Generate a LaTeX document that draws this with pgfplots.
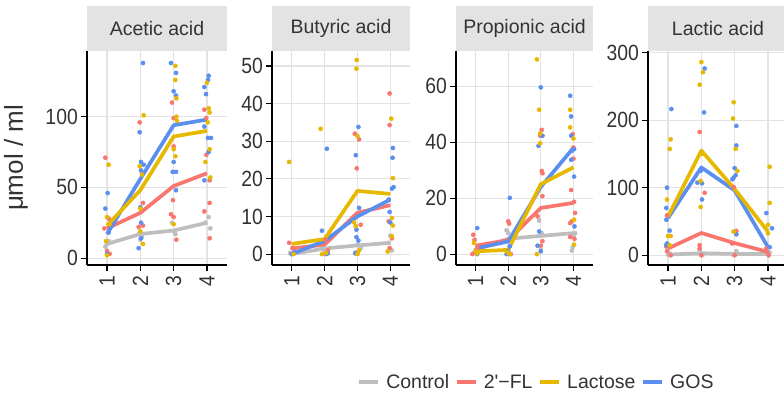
\documentclass[border=0pt]{standalone}
\usepackage{fontspec}
\setmainfont{Liberation Sans}
\newfontfamily\tickfamily{Liberation Sans}[FakeStretch=0.88]
\usepackage{pgfplots}
\pgfplotsset{compat=1.18}
\definecolor{cctrl}{HTML}{BEBEBE}
\definecolor{cfl}{HTML}{F8766D}
\definecolor{clac}{HTML}{E7B800}
\definecolor{cgos}{HTML}{5A8FEF}
\definecolor{cstrip}{HTML}{E3E3E3}
\definecolor{cgrid}{HTML}{E3E3E3}
\definecolor{ctext}{HTML}{333333}
\newcommand{\fs}{\fontsize{19.5bp}{22bp}\selectfont}
\newcommand{\tfs}{\tickfamily\fontsize{22bp}{24bp}\selectfont}
\pgfplotsset{
  panel/.style={
    anchor=south west, scale only axis, height=214bp,
    xmin=0.4, xmax=4.6, xtick={1,2,3,4},
    axis x line*=bottom, axis y line*=left,
    axis line style={line width=1.3bp, black, -},
    tick align=outside, major tick length=6bp,
    tick style={line width=1.1bp, black},
    grid=major, major grid style={cgrid, line width=1.1bp},
    clip=false,
    /pgf/number format/assume math mode=true,
    yticklabel style={font=\tfs, text=ctext, inner sep=3bp},
    xticklabel style={font=\tfs, text=ctext, rotate=90, anchor=east, inner sep=5bp},
    every axis title/.style={at={(0.5,1)}, anchor=south, fill=cstrip,
      minimum height=45bp, inner sep=0pt, font=\fs, text=ctext},
  },
  pt/.style={only marks, mark=*, mark size=2.1bp, color=#1, forget plot},
  ln/.style={no marks, color=#1, line width=3.7bp, line join=round, forget plot},
}
\begin{document}
\begin{tikzpicture}
% ---------------- Acetic acid ----------------
\begin{axis}[panel, at={(87bp,134bp)}, width=140bp,
  ymin=-4.9, ymax=146.5, ytick={0,50,100},
  title={Acetic acid}, title style={minimum width=140bp},
  ylabel={\fontsize{26bp}{30bp}\selectfont μmol / ml},
  ylabel style={at={(axis description cs:-0.507,0.5)}, anchor=center, rotate=0, text=ctext}]
\addplot[pt=cctrl] coordinates {(1.0,10)(0.95,8)(1.05,12)(2.0,13)(1.95,17)(2.05,15)(3.0,19)(2.95,25)(3.05,17)(4.05,29)(4.1,21)(3.95,25)};
\addplot[pt=cfl] coordinates {(0.95,71)(1.05,28)(0.92,21)(1.0,5)(1.08,3)(1.98,96)(2.08,39)(2.08,23)(1.95,22)(2.95,110)(3.0,99)(3.0,79)(2.98,41)(2.92,31)(3.0,29)(3.08,13)(3.92,105)(3.98,99)(3.98,73)(4.08,55)(4.08,39)(3.92,33)(4.08,14)};
\addplot[pt=cgos] coordinates {(1.02,46)(0.95,35)(1.0,3)(1.05,18)(2.08,138)(1.98,89)(2.02,68)(2.1,66)(2.02,62)(2.0,36)(2.02,25)(1.95,7)(2.02,14)(2.92,138)(3.07,131)(3.0,118)(3.07,115)(3.0,68)(2.97,61)(3.07,61)(3.07,48)(4.05,129)(4.03,126)(3.92,121)(3.97,116)(3.92,93)(4.03,85)(4.12,85)(4.05,75)(3.92,55)};
\addplot[pt=clac] coordinates {(1.05,66)(1.0,29)(0.97,12)(1.0,2)(1.08,24)(2.1,101)(1.98,65)(2.05,59)(2.0,35)(2.0,19)(2.08,10)(3.05,136)(3.05,126)(3.08,113)(3.08,100)(3.1,97)(3.0,77)(3.05,72)(3.0,24)(4.0,124)(4.05,106)(4.08,103)(4.02,96)(4.08,77)(3.95,68)(4.1,57)};
\addplot[ln=cctrl] coordinates {(1,10)(2,17)(3,19.5)(4,25)};
\addplot[ln=cfl] coordinates {(1,21)(2,32)(3,51)(4,60)};
\addplot[ln=cgos] coordinates {(1,17)(2,56)(3,94)(4,98)};
\addplot[ln=clac] coordinates {(1,23)(2,48)(3,86)(4,90)};
\end{axis}
% ---------------- Butyric acid ----------------
\begin{axis}[panel, at={(272bp,134bp)}, width=138bp,
  ymin=-2.9, ymax=54, ytick={0,10,20,30,40,50},
  title={Butyric acid}, title style={minimum width=138bp}]
\addplot[pt=cctrl] coordinates {(1.0,0)(0.95,0.3)(2.0,0.8)(1.95,1.5)(3.0,2.5)(3.1,1.6)(2.95,0.5)(4.0,4.9)(3.95,3.0)(4.05,1.0)};
\addplot[pt=cfl] coordinates {(0.92,3)(1.02,1.6)(1.05,0.2)(2.02,3.8)(2.1,1.0)(2.92,32)(3.05,30.5)(2.98,22.8)(3.1,7.8)(3.0,0.3)(3.98,42.7)(3.98,34.3)(3.95,8.7)(3.98,1.6)(4.05,4.2)};
\addplot[pt=cgos] coordinates {(1.0,0)(1.08,0.5)(2.07,28)(1.92,6.2)(2.05,0)(2.1,0.2)(3.03,33.8)(2.95,26.3)(3.05,12.3)(2.97,6.5)(2.97,4.5)(3.03,3.6)(2.93,0.2)(4.08,28.2)(4.07,25.6)(4.1,17.8)(4.05,17.4)(3.98,11.2)(4.0,8.4)(3.95,14.5)};
\addplot[pt=clac] coordinates {(0.92,24.5)(1.05,0)(1.88,33.3)(1.92,0)(2.05,0.3)(2.98,51.6)(2.97,49.3)(3.0,31.4)(2.9,8.4)(2.95,7.4)(3.0,0)(3.05,1.0)(4.03,36)(4.08,20.2)(4.05,9.6)(4.08,7.6)(4.05,4.7)(3.92,0.7)};
\addplot[ln=cctrl] coordinates {(1,0)(2,1.5)(3,2.3)(4,3)};
\addplot[ln=cfl] coordinates {(1,1.5)(2,2.5)(3,11)(4,13)};
\addplot[ln=cgos] coordinates {(1,0)(2,3.5)(3,10)(4,14.5)};
\addplot[ln=clac] coordinates {(1,2.7)(2,4)(3,16.8)(4,16)};
\end{axis}
% ---------------- Propionic acid ----------------
\begin{axis}[panel, at={(456bp,134bp)}, width=137bp,
  ymin=-3.9, ymax=72.6, ytick={0,20,40,60},
  title={Propionic acid}, title style={minimum width=137bp}]
\addplot[pt=cctrl] coordinates {(1.0,1.5)(0.95,0.5)(1.95,8.5)(2.0,7.5)(2.05,3)(2.95,12)(3.03,7.5)(3.0,1.5)(3.95,1.3)(3.98,2.5)(4.05,7.5)(4.0,6.5)};
\addplot[pt=cfl] coordinates {(0.93,6.9)(0.97,5.1)(0.9,0)(1.05,2.2)(2.0,11.7)(2.03,10.9)(2.08,0)(3.03,44.4)(2.98,42.3)(3.03,29.7)(3.05,28.9)(3.05,20.7)(2.9,13.5)(3.05,4.6)(3.0,3.0)(3.98,42.9)(4.0,38.1)(4.0,34.1)(3.93,22.9)(4.02,18.7)(4.05,14.7)(3.95,11.7)(3.9,11.1)(3.9,6.1)(4.03,5.4)};
\addplot[pt=cgos] coordinates {(1.05,9.3)(1.05,0)(2.05,20.1)(2.05,2.8)(1.95,0)(2.0,1.0)(3.0,59.6)(3.05,42.3)(2.93,38.7)(2.95,8.1)(2.9,3.0)(3.0,1.0)(3.9,56.6)(3.93,49.2)(3.93,42.3)(3.95,36.9)(4.02,37.5)(3.93,33.7)(4.02,27.7)(4.03,9.9)};
\addplot[pt=clac] coordinates {(0.95,4)(1.0,1.0)(1.05,0.2)(2.05,0)(1.98,0.6)(2.88,69.6)(2.95,51.6)(2.98,43.1)(2.98,39.6)(2.88,0)(3.9,51.6)(3.9,45.3)(4.0,41.3)(4.02,12.3)(4.02,3.4)};
\addplot[ln=cctrl] coordinates {(1,1.5)(2,5.5)(3,6.5)(4,7.5)};
\addplot[ln=cfl] coordinates {(1,3)(2,5)(3,16.5)(4,18.3)};
\addplot[ln=cgos] coordinates {(1,2)(2,4.5)(3,24)(4,38)};
\addplot[ln=clac] coordinates {(1,1)(2,1.5)(3,25)(4,31)};
\end{axis}
% ---------------- Lactic acid ----------------
\begin{axis}[panel, at={(648bp,134bp)}, width=140bp,
  ymin=-14.4, ymax=302.4, ytick={0,100,200,300},
  title={Lactic acid}, title style={minimum width=140bp},
  legend columns=4,
  legend style={at={(axis description cs:-0.796,-0.547)}, anchor=center, draw=none, fill=none,
    font=\fs, text=ctext, inner sep=0pt,
    /tikz/every odd column/.append style={column sep=4bp},
    /tikz/every even column/.append style={column sep=4bp}},
  legend image code/.code={\draw[#1, line width=3.7bp] (0bp,0bp) -- (19bp,0bp);}]
\addlegendimage{cctrl}\addlegendentry{Control}
\addlegendimage{cfl}\addlegendentry{2\textquotesingle−FL}
\addlegendimage{clac}\addlegendentry{Lactose}
\addlegendimage{cgos}\addlegendentry{GOS}
\addplot[pt=cctrl] coordinates {(1.0,1)(1.05,3)(2.0,3)(1.95,8)(2.05,1)(3.0,2)(3.05,6)(2.95,1)(4.0,2)(4.05,4)};
\addplot[pt=cfl] coordinates {(0.97,59)(0.97,6)(1.08,0)(0.95,13)(1.95,182.5)(2.1,92.5)(1.95,15)(1.95,10)(2.0,0)(2.97,101)(3.05,36)(2.92,17.5)(3.0,0)(3.97,5)(4.02,0)(3.95,10)};
\addplot[pt=cgos] coordinates {(1.1,216.5)(0.97,100)(0.95,70)(0.95,52.5)(1.05,36.5)(0.97,17.5)(0.95,15)(2.1,276.5)(2.08,211.5)(1.88,107.5)(2.02,106.5)(2.02,82.5)(1.98,125)(3.05,191.5)(3.05,162.5)(3.0,129)(3.03,118.5)(2.97,115)(2.93,112.5)(3.05,31)(3.95,62.5)(4.12,40)(4.05,12)};
\addplot[pt=clac] coordinates {(1.08,171.5)(1.05,157.5)(0.97,82.5)(1.0,28.5)(1.08,28.5)(1.05,15)(2.0,286)(2.05,271)(1.95,252.5)(1.98,110)(1.98,71.5)(2.02,150)(2.97,226.5)(2.95,202.5)(3.03,157.5)(3.08,125)(2.97,35)(4.05,131)(4.05,77.5)(4.0,45)(4.0,32.5)};
\addplot[ln=cctrl] coordinates {(1,1)(2,3)(3,2)(4,2)};
\addplot[ln=cfl] coordinates {(1,10)(2,33)(3,18)(4,5)};
\addplot[ln=cgos] coordinates {(1,55)(2,130)(3,96)(4,12)};
\addplot[ln=clac] coordinates {(1,57)(2,155)(3,98)(4,35)};
\end{axis}
\pgfresetboundingbox
\path[use as bounding box] (0bp,0bp) rectangle (784bp,399bp);
\end{tikzpicture}
\end{document}
